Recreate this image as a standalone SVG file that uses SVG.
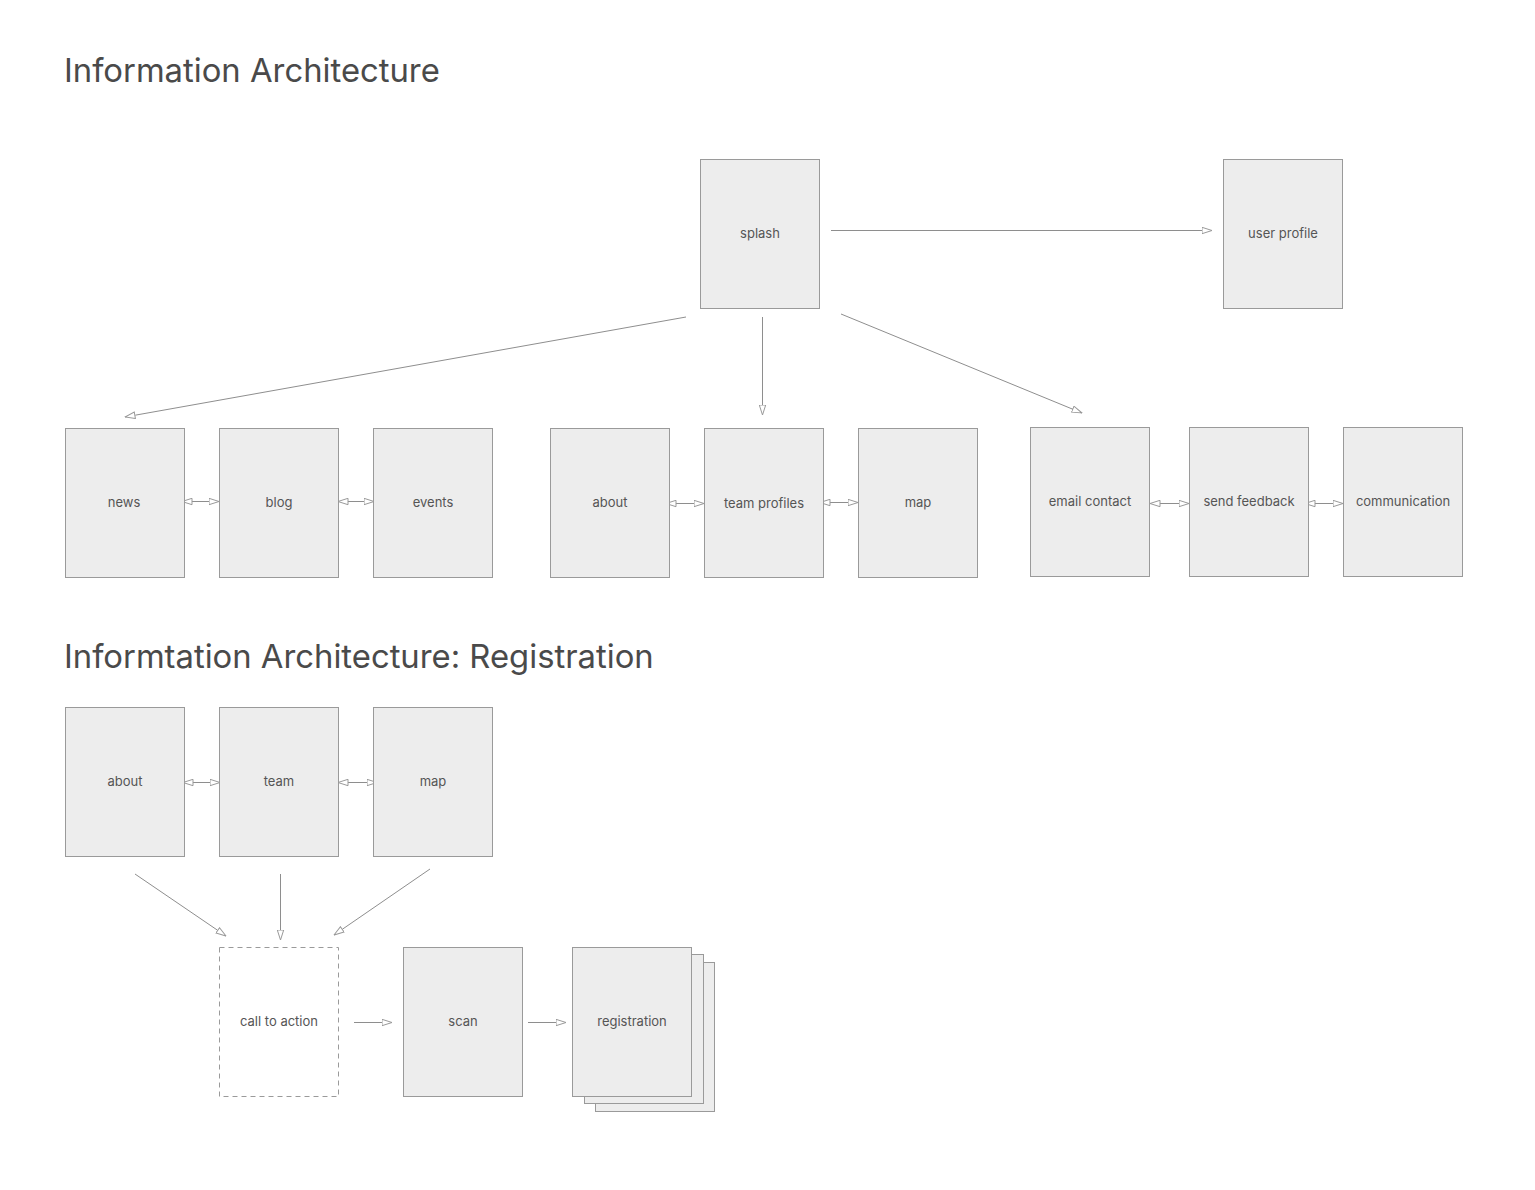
<svg xmlns="http://www.w3.org/2000/svg" width="1535" height="1190" viewBox="0 0 1535 1190">
<style>
.box{fill:#ededed;stroke:#9a9a9a;stroke-width:1}
.dash{fill:#fff;stroke:#9a9a9a;stroke-width:1;stroke-dasharray:5,4}
.lbl{font-family:Inter,Roboto,"Liberation Sans",sans-serif;font-size:13px;fill:#555;text-anchor:middle}
.title{font-family:Inter,Roboto,"Liberation Sans",sans-serif;font-size:32.8px;fill:#4a4a4a}
.c{stroke:#8e8e8e;stroke-width:1;fill:none;marker-end:url(#ah)}
.b{stroke:#8e8e8e;stroke-width:1;fill:none;marker-end:url(#ah);marker-start:url(#ah)}
</style>
<defs>
<marker id="ah" viewBox="0 0 11 8" refX="10.5" refY="4" markerWidth="11" markerHeight="8" markerUnits="userSpaceOnUse" orient="auto-start-reverse">
<path d="M0.5,0.8 L10.5,4 L0.5,7.2 Z" fill="#fff" stroke="#999" stroke-width="1"/>
</marker>
</defs>
<rect width="1535" height="1190" fill="#fff"/>
<text class="title" x="64" y="82">Information Architecture</text>
<text class="title" x="64" y="668">Informtation Architecture: Registration</text>

<g id="connectors">
<line class="c" x1="831" y1="230.5" x2="1212" y2="230.5"/>
<line class="c" x1="686" y1="317" x2="125" y2="417"/>
<line class="c" x1="762.5" y1="317" x2="762.5" y2="415"/>
<line class="c" x1="841" y1="314" x2="1082" y2="413"/>
<line class="b" x1="182" y1="501.5" x2="219" y2="501.5"/>
<line class="b" x1="338" y1="501.5" x2="374" y2="501.5"/>
<line class="b" x1="666" y1="503.5" x2="704" y2="503.5"/>
<line class="b" x1="820" y1="502.5" x2="858" y2="502.5"/>
<line class="b" x1="1150" y1="503.5" x2="1189" y2="503.5"/>
<line class="b" x1="1305" y1="503.5" x2="1343" y2="503.5"/>
<line class="b" x1="183" y1="782.5" x2="220" y2="782.5"/>
<line class="b" x1="338" y1="782.5" x2="377" y2="782.5"/>
<line class="c" x1="135" y1="874" x2="226" y2="936"/>
<line class="c" x1="280.5" y1="874" x2="280.5" y2="940"/>
<line class="c" x1="430" y1="869" x2="334" y2="935"/>
<line class="c" x1="354" y1="1022.5" x2="392" y2="1022.5"/>
<line class="c" x1="528" y1="1022.5" x2="566" y2="1022.5"/>
</g>

<g id="splash"><rect class="box" x="700.5" y="159.5" width="119" height="149"/><text class="lbl" x="760" y="238">splash</text></g>
<g id="user-profile"><rect class="box" x="1223.5" y="159.5" width="119" height="149"/><text class="lbl" x="1283" y="238">user profile</text></g>

<g id="news"><rect class="box" x="65.5" y="428.5" width="119" height="149"/><text class="lbl" x="124" y="507">news</text></g>
<g id="blog"><rect class="box" x="219.5" y="428.5" width="119" height="149"/><text class="lbl" x="279" y="507">blog</text></g>
<g id="events"><rect class="box" x="373.5" y="428.5" width="119" height="149"/><text class="lbl" x="433" y="507">events</text></g>
<g id="about"><rect class="box" x="550.5" y="428.5" width="119" height="149"/><text class="lbl" x="610" y="507">about</text></g>
<g id="team-profiles"><rect class="box" x="704.5" y="428.5" width="119" height="149"/><text class="lbl" x="764" y="508">team profiles</text></g>
<g id="map"><rect class="box" x="858.5" y="428.5" width="119" height="149"/><text class="lbl" x="918" y="507">map</text></g>
<g id="email-contact"><rect class="box" x="1030.5" y="427.5" width="119" height="149"/><text class="lbl" x="1090" y="506">email contact</text></g>
<g id="send-feedback"><rect class="box" x="1189.5" y="427.5" width="119" height="149"/><text class="lbl" x="1249" y="506">send feedback</text></g>
<g id="communication"><rect class="box" x="1343.5" y="427.5" width="119" height="149"/><text class="lbl" x="1403" y="506">communication</text></g>

<g id="about2"><rect class="box" x="65.5" y="707.5" width="119" height="149"/><text class="lbl" x="125" y="786">about</text></g>
<g id="team"><rect class="box" x="219.5" y="707.5" width="119" height="149"/><text class="lbl" x="279" y="786">team</text></g>
<g id="map2"><rect class="box" x="373.5" y="707.5" width="119" height="149"/><text class="lbl" x="433" y="786">map</text></g>

<g id="call-to-action"><rect class="dash" x="219.5" y="947.5" width="119" height="149"/><text class="lbl" x="279" y="1026">call to action</text></g>
<g id="scan"><rect class="box" x="403.5" y="947.5" width="119" height="149"/><text class="lbl" x="463" y="1026">scan</text></g>
<g id="registration">
<rect class="box" x="595.5" y="962.5" width="119" height="149"/>
<rect class="box" x="584.5" y="954.5" width="119" height="149"/>
<rect class="box" x="572.5" y="947.5" width="119" height="149"/>
<text class="lbl" x="632" y="1026">registration</text>
</g>
</svg>
